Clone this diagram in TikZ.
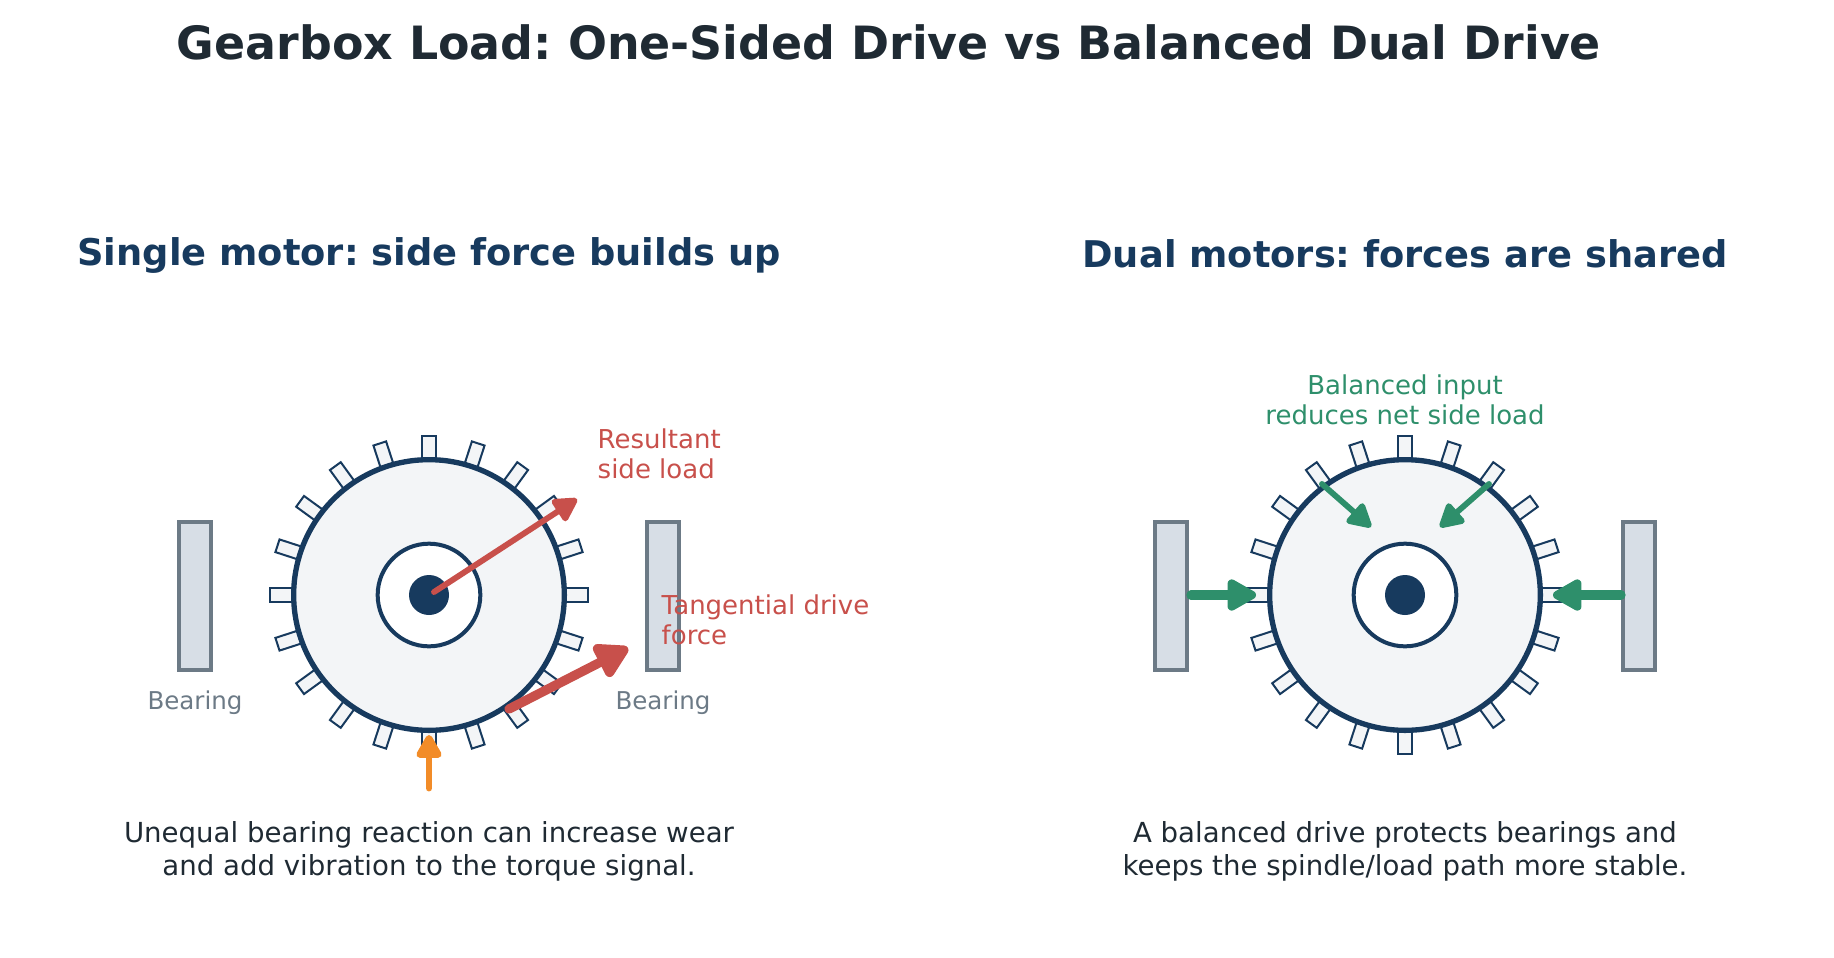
\documentclass[tikz,border=0pt]{standalone}
\usepackage{fontspec}
\setmainfont{DejaVu Sans}
\usetikzlibrary{arrows.meta}
\usepackage{xcolor}
\frenchspacing

\definecolor{navy}{HTML}{173A5E}
\definecolor{gearfill}{HTML}{F3F5F7}
\definecolor{bearfill}{HTML}{D7DEE6}
\definecolor{bearline}{HTML}{6C7A86}
\definecolor{redload}{HTML}{C8504B}
\definecolor{orangeload}{HTML}{F28C28}
\definecolor{greenload}{HTML}{2E8F6B}
\definecolor{inktext}{HTML}{1F2A33}

\tikzset{
  gearbody/.style={circle, draw=navy, fill=gearfill, line width=4pt, minimum size=203pt, inner sep=0pt},
  geartooth/.style={rectangle, draw=navy, fill=gearfill, line width=1.5pt, minimum width=26pt, minimum height=10pt, inner sep=0pt},
  gearhub/.style={circle, draw=navy, fill=white, line width=3pt, minimum size=77pt, inner sep=0pt},
  gearshaft/.style={circle, fill=navy, minimum size=30pt, inner sep=0pt},
  bearing/.style={rectangle, draw=bearline, fill=bearfill, line width=2.8pt, minimum width=24pt, minimum height=111pt, inner sep=0pt},
  maintitle/.style={text=inktext, font=\bfseries\fontsize{34.4}{40}\selectfont},
  paneltitle/.style={text=navy, font=\bfseries\fontsize{27.6}{32}\selectfont, align=center},
  caption/.style={text=inktext, font=\fontsize{20.7}{24.8}\selectfont, align=center},
  smalllabel/.style={font=\fontsize{19.5}{22.6}\selectfont},
  bearlabel/.style={text=bearline, font=\fontsize{18.4}{22}\selectfont},
  loadbig/.style={-{Triangle[length=25pt,width=26pt,round]}, line width=7pt, line cap=round},
  loadwide/.style={-{Triangle[length=28pt,width=30pt,round]}, line width=7pt, line cap=round},
  loadthin/.style={-{Triangle[length=20pt,width=21pt,round]}, line width=4.4pt, line cap=round}
}

\begin{document}
\begin{tikzpicture}[x=0.75pt, y=-0.75pt]
  \useasboundingbox (0,0) rectangle (1834,957);

  % Titles
  \node[maintitle] (title) at (889,42) {Gearbox Load: One-Sided Drive vs Balanced Dual Drive};
  \node[paneltitle] (titleL) at (429,255) {Single motor: side force builds up};
  \node[paneltitle] (titleR) at (1405,254) {Dual motors: forces are shared};

  % Gears
  \foreach \gear/\cx in {L/429,R/1405} {
    \foreach \a in {0,18,...,342}
      \node[geartooth, rotate=-\a] (tooth\gear\a) at ([shift={(\a:142)}]\cx,595) {};
    \node[gearbody] (gear\gear) at (\cx,595) {};
    \node[gearhub] (hub\gear) at (\cx,595) {};
    \node[gearshaft] (shaft\gear) at (\cx,595) {};
  }

  % Bearings
  \node[bearing] (bearLa) at (195,596) {};
  \node[bearing] (bearLb) at (663,596) {};
  \node[bearing] (bearRa) at (1171,596) {};
  \node[bearing] (bearRb) at (1639,596) {};
  \node[bearlabel] (bearLaText) at (195,703) {Bearing};
  \node[bearlabel] (bearLbText) at (663,703) {Bearing};

  % Labels
  \node[smalllabel, text=redload, align=left, anchor=west] (resultant) at (593,454) {Resultant\\side load};
  \node[smalllabel, text=redload, align=left, anchor=west] (tangential) at (657,620) {Tangential drive\\force};
  \node[smalllabel, text=greenload, align=center] (balanced) at (1405,400) {Balanced input\\reduces net side load};

  % Captions
  \node[caption] (capL) at (429,851) {Unequal bearing reaction can increase wear\\and add vibration to the torque signal.};
  \node[caption] (capR) at (1405,851) {A balanced drive protects bearings and\\keeps the spindle/load path more stable.};

  % Free ends of the arrows
  \coordinate (resA) at (434,592);
  \coordinate (resB) at (577,499);
  \coordinate (tanA) at (509,709);
  \coordinate (tanB) at (628,648);
  \coordinate (sideA) at (429,788);
  \coordinate (sideB) at (429,735);
  \coordinate (leftA) at (1191,595);
  \coordinate (leftB) at (1256,595);
  \coordinate (rightA) at (1621,595);
  \coordinate (rightB) at (1553,595);
  \coordinate (inA) at (1322,484);
  \coordinate (inB) at (1371,527);
  \coordinate (inC) at (1489,484);
  \coordinate (inD) at (1440,527);

  % Forces
  \draw[loadthin, redload] (resA) -- (resB);
  \draw[loadwide, redload] (tanA) -- (tanB);
  \draw[loadthin, orangeload, line width=5.2pt] (sideA) -- (sideB);
  \draw[loadbig, greenload] (leftA) -- (leftB);
  \draw[loadbig, greenload] (rightA) -- (rightB);
  \draw[loadthin, greenload] (inA) -- (inB);
  \draw[loadthin, greenload] (inC) -- (inD);
\end{tikzpicture}
\end{document}
